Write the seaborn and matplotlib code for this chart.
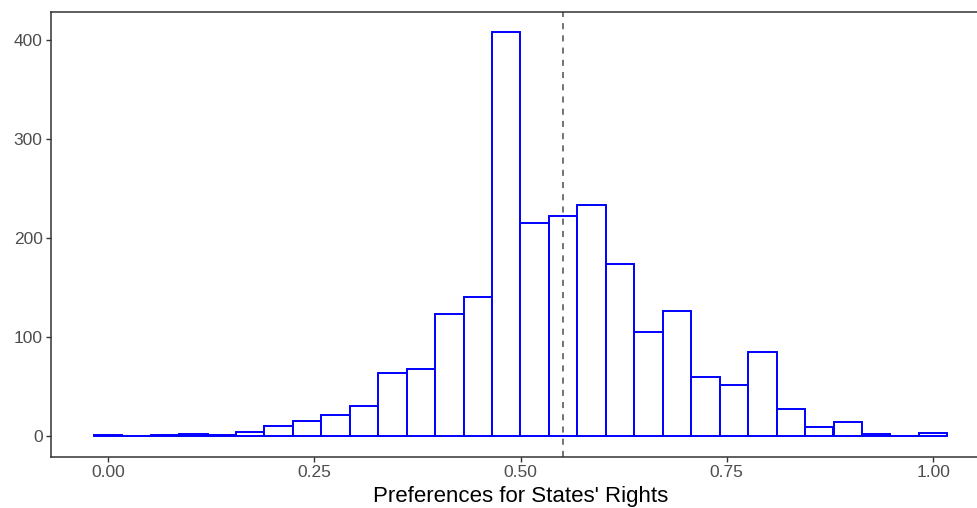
import numpy as np
import pandas as pd
import matplotlib.pyplot as plt
import seaborn as sns

# histogram counts (30 bins, centred on 0 .. 1)
bin_centers = [k / 29 for k in range(30)]
counts = [2, 0, 2, 3, 2, 5, 11, 16, 22, 31,
          64, 68, 124, 141, 408, 215, 223, 234, 174, 105,
          127, 60, 52, 85, 28, 10, 15, 3, 0, 4]
mean_value = 0.5513
x_ticks = [0.0, 0.25, 0.5, 0.75, 1.0]
y_ticks = [0, 100, 200, 300, 400]

df = pd.DataFrame({'pref': bin_centers, 'n': counts})

sns.set_style('white')
plt.rcParams['font.family'] = ['Liberation Sans', 'DejaVu Sans']

fig = plt.figure(figsize=(9.78, 5.08), dpi=100)
ax = fig.add_axes([51 / 978, (508 - 456.7) / 508, (990 - 51) / 978, (456.7 - 12) / 508])

width = bin_centers[1] - bin_centers[0]
edges = [c - width / 2 for c in bin_centers] + [bin_centers[-1] + width / 2]

sns.histplot(data=df, x='pref', weights='n', bins=edges, ax=ax,
             facecolor='white', edgecolor='#0000FF', linewidth=1.4, alpha=1)
ax.axvline(mean_value, color='#4D4D4D', linestyle=(0, (4, 4)), linewidth=1.1)

span = edges[-1] - edges[0]
ax.set_xlim(edges[0] - 0.05 * span, edges[-1] + 0.05 * span)
ax.set_ylim(-0.05 * max(counts), 1.05 * max(counts))
ax.set_xticks(x_ticks)
ax.set_xticklabels(['%.2f' % t for t in x_ticks])
ax.set_yticks(y_ticks)

for s in ax.spines.values():
    s.set_color('#333333')
    s.set_linewidth(1.1)
ax.tick_params(axis='both', bottom=True, left=True, length=3.5, width=1.0,
               color='#333333', labelcolor='#4D4D4D', labelsize=12.5, pad=2.5)
ax.set_xlabel("Preferences for States' Rights", fontsize=16, color='black', labelpad=4)
ax.set_ylabel('')

fig.savefig('out.png', dpi=100)
